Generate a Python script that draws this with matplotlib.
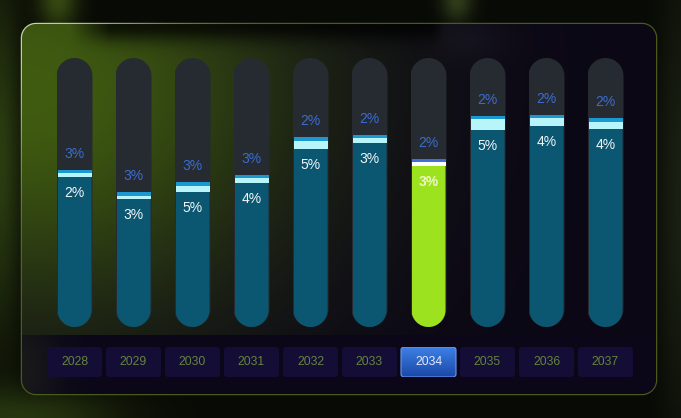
import numpy as np
import matplotlib
matplotlib.use("Agg")
import matplotlib.pyplot as plt
from matplotlib.patches import FancyBboxPatch, PathPatch
from matplotlib.path import Path

# ---------------- data ----------------
years = ["2028", "2029", "2030", "2031", "2032", "2033", "2034", "2035", "2036", "2037"]
base_vals = [55.9, 47.7, 50.2, 53.5, 66.1, 68.3, 60.0, 73.2, 74.7, 73.6]
mid_vals = [1.5, 1.0, 2.2, 1.9, 3.2, 1.9, 1.5, 4.1, 3.1, 2.7]
top_vals = [1.0, 1.5, 1.5, 1.1, 1.4, 1.3, 1.0, 1.2, 1.1, 1.5]
inner_labels = ["2%", "3%", "5%", "4%", "5%", "3%", "3%", "5%", "4%", "4%"]
outer_labels = ["3%", "3%", "3%", "3%", "2%", "2%", "2%", "2%", "2%", "2%"]
track_max = 100.0
highlight = "2034"

plt.rcParams['font.family'] = ['Liberation Sans', 'DejaVu Sans']

W, H = 681, 418
DPI = 100
fig = plt.figure(figsize=(W / DPI, H / DPI), dpi=DPI)
fig.patch.set_facecolor("#090b06")

# ---------------- background image ----------------
yy, xx = np.mgrid[0:H, 0:W].astype(float) + 0.5
img = np.zeros((H, W, 3))
img[:] = np.array([8, 10, 5], float)


def blob(cx, cy, sx, sy, col):
    g = np.exp(-((xx - cx) / sx) ** 2 - ((yy - cy) / sy) ** 2)
    return g[..., None] * np.array(col, float)[None, None, :]


img += blob(58, 0, 20, 30, (45, 62, 12))
img += blob(0, 160, 22, 170, (35, 50, 12))
img += blob(30, 418, 90, 30, (30, 42, 10))
img += blob(457, 0, 16, 22, (40, 50, 22))
img += blob(681, 200, 22, 220, (18, 22, 14))

# card (rounded rectangle)
cx, cy = (21 + 657) / 2, (23 + 395) / 2
hx, hy = (657 - 21) / 2, (395 - 23) / 2
r = 15
qx = np.abs(xx - cx) - (hx - r)
qy = np.abs(yy - cy) - (hy - r)
sd = np.sqrt(np.maximum(qx, 0) ** 2 + np.maximum(qy, 0) ** 2) + np.minimum(np.maximum(qx, qy), 0) - r
inside = np.clip(0.5 - sd, 0, 1)[..., None]

dark = np.array([11, 7, 22], float)
green = np.array([64, 92, 16], float)
w = np.exp(-((xx - 30) / 270) ** 2 - ((yy - 90) / 230) ** 2)
shadow = 1 - 0.75 * np.exp(-((yy - 26) / 16) ** 2) * np.clip((xx - 70) / 40, 0, 1) * np.clip((445 - xx) / 12, 0, 1)
card = (dark[None, None, :] + w[..., None] * (green - dark)[None, None, :]) * shadow[..., None]
card += blob(470, 40, 40, 20, (6, 6, 6))
strip = np.array([11, 7, 24], float)[None, None, :] + blob(20, 370, 40, 60, (14, 18, 2))
card = np.where((yy >= 335)[..., None], strip, card)
img = img * (1 - inside) + card * inside

# border
ba = np.clip(1.1 - np.abs(sd + 0.4), 0, 1)[..., None]
wl = np.exp(-((xx - 21) ** 2 + (yy - 23) ** 2) / 140 ** 2)[..., None]
light = np.array([215, 225, 195], float)
olive = np.array([80, 100, 28], float)
bcol = olive[None, None, :] + wl * (light - olive)[None, None, :]
img = img * (1 - ba * 0.9) + bcol * ba * 0.9

img = np.clip(img / 255.0, 0, 1)

bg = fig.add_axes([0, 0, 1, 1])
bg.imshow(img, extent=(0, W, H, 0), interpolation="bilinear", aspect="auto")
bg.set_xlim(0, W)
bg.set_ylim(H, 0)
bg.axis("off")
bg.set_zorder(-5)

# ---------------- main bar axes ----------------
px_per_x = 59.0
left_px, right_px = 45.0, 635.0
top_px, bot_px = 58.0, 327.0
ax = fig.add_axes([left_px / W, (H - bot_px) / H, (right_px - left_px) / W, (bot_px - top_px) / H])
ax.set_xlim(-0.5, len(years) - 0.5)
ax.set_ylim(0, track_max)
ax.axis("off")
ax.patch.set_alpha(0)
px_per_y = (bot_px - top_px) / track_max

x = np.arange(len(years))
track_w = 36 / px_per_x
bar_w = 34 / px_per_x


def pill_clip(rect, height):
    """Clip a bar rectangle to a pill shape (semicircular ends) in data coordinates."""
    x0, wd = rect.get_x(), rect.get_width()
    xc, rx = x0 + wd / 2, wd / 2
    ry = rx * px_per_x / px_per_y
    t = np.linspace(np.pi, 2 * np.pi, 40)
    bottom = np.column_stack([xc + rx * np.cos(t), ry + ry * np.sin(t)])
    t2 = np.linspace(0, np.pi, 40)
    top = np.column_stack([xc + rx * np.cos(t2), height - ry + ry * np.sin(t2)])
    verts = np.vstack([bottom, top, bottom[:1]])
    clip = PathPatch(Path(verts, closed=True), transform=ax.transData, facecolor="none", edgecolor="none")
    rect.set_clip_path(clip)


tracks = ax.bar(x, [track_max] * len(years), width=track_w, color="#262b31", zorder=1)
for t in tracks:
    pill_clip(t, track_max)

hi = years.index(highlight)
base_cols = ["#9de21f" if i == hi else "#0b5670" for i in range(len(years))]
mid_cols = ["#ffffff" if i == hi else "#b8f5fb" for i in range(len(years))]
top_cols = ["#3f6fd6" if i == hi else "#1b98cf" for i in range(len(years))]

b1 = ax.bar(x, base_vals, width=bar_w, color=base_cols, zorder=2)
for b in b1:
    pill_clip(b, track_max)
mid_bottom = np.array(base_vals)
ax.bar(x, mid_vals, bottom=mid_bottom, width=bar_w, color=mid_cols, zorder=2)
top_bottom = mid_bottom + np.array(mid_vals)
ax.bar(x, top_vals, bottom=top_bottom, width=bar_w, color=top_cols, zorder=2)
stack_top = top_bottom + np.array(top_vals)

for i in range(len(years)):
    is_hi = (i == hi)
    ax.annotate(inner_labels[i], (x[i], base_vals[i]), xytext=(0, -16), textcoords="offset pixels",
                ha="center", va="center", fontsize=10,
                color="#eef6c6" if is_hi else "#f2f6f8",
                fontweight="bold" if is_hi else "normal", zorder=5)
    ax.annotate(outer_labels[i], (x[i], stack_top[i]), xytext=(0, 16), textcoords="offset pixels",
                ha="center", va="center", fontsize=10, color="#3a6cd0", zorder=5)

# ---------------- year buttons ----------------
btn_top, btn_bot = 347.0, 377.0
ax2 = fig.add_axes([left_px / W, (H - btn_bot) / H, (right_px - left_px) / W, (btn_bot - btn_top) / H])
ax2.set_xlim(-0.5, len(years) - 0.5)
ax2.set_ylim(0, 1)
ax2.axis("off")
ax2.patch.set_alpha(0)
btn_w = 55 / px_per_x
btn_aspect = px_per_x / (btn_bot - btn_top)
btn_cols = ["#1e4fb8" if i == hi else "#140d36" for i in range(len(years))]
btns = ax2.bar(x, [1] * len(years), width=btn_w, color=btn_cols, zorder=1)
for i, b in enumerate(btns):
    clip = FancyBboxPatch((b.get_x(), 0), b.get_width(), 1,
                          boxstyle=f"round,pad=0,rounding_size={3 / px_per_x}",
                          mutation_aspect=btn_aspect, transform=ax2.transData,
                          facecolor="none", edgecolor="#6a98ee" if i == hi else "none",
                          linewidth=0.8, zorder=3)
    b.set_clip_path(clip)
    if i == hi:
        grad = np.linspace(0, 1, 64)[:, None]
        c_top = np.array([0x1c, 0x48, 0xa8]) / 255
        c_bot = np.array([0x3d, 0x80, 0xe6]) / 255
        gimg = (c_top[None, None, :] * (1 - grad[..., None]) + c_bot[None, None, :] * grad[..., None])
        gimg = np.repeat(gimg, 4, axis=1)
        im = ax2.imshow(gimg, extent=(b.get_x(), b.get_x() + b.get_width(), 1, 0),
                        aspect="auto", zorder=2, origin="upper")
        im.set_clip_path(clip)
        ax2.add_patch(clip)
    ax2.text(x[i], 0.5, years[i], ha="center", va="center", fontsize=8.7,
             color="#e2ebff" if i == hi else "#66843e", zorder=4)
ax2.set_xlim(-0.5, len(years) - 0.5)
ax2.set_ylim(0, 1)

fig.savefig("out.png", dpi=DPI)
